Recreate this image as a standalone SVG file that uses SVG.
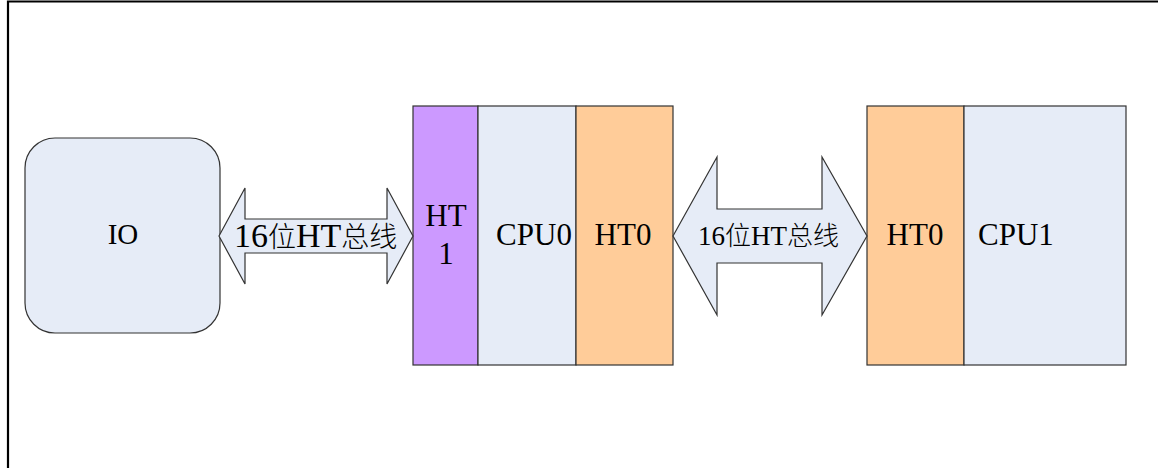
<svg xmlns="http://www.w3.org/2000/svg" width="1158" height="468" viewBox="0 0 1158 468">
<style>
.frame{fill:none;stroke:#000;stroke-width:2.2}
.box{stroke:#333;stroke-width:1.2}
.blue{fill:#E6ECF7}
.purple{fill:#CC99FF}
.orange{fill:#FFCC99}
.arrow{fill:#E6ECF7;stroke:#333;stroke-width:1.2}
.t{font-family:'Liberation Serif','Times New Roman','DejaVu Serif',serif;fill:#000}
.cjk{font-family:'Noto Sans CJK SC',sans-serif;font-weight:300}
</style>
<rect width="1158" height="468" fill="#fff"/>
<path class="frame" d="M8 468 V1.5 H1158"/>
<g id="io">
<rect class="box blue" x="25" y="138" width="195" height="195" rx="30" ry="30"/>
<text class="t" x="123" y="244" font-size="29" text-anchor="middle">IO</text>
</g>
<g id="cpu0">
<rect class="box purple" x="413" y="106" width="65" height="259"/>
<rect class="box blue" x="478" y="106" width="98" height="259"/>
<rect class="box orange" x="576" y="106" width="97" height="259"/>
<text class="t" x="446" y="226" font-size="31" text-anchor="middle">HT</text>
<text class="t" x="446" y="264" font-size="31" text-anchor="middle">1</text>
<text class="t" x="534" y="245" font-size="31" text-anchor="middle">CPU0</text>
<text class="t" x="623" y="245" font-size="31" text-anchor="middle">HT0</text>
</g>
<g id="cpu1">
<rect class="box orange" x="867" y="106" width="97" height="259"/>
<rect class="box blue" x="964" y="106" width="162" height="259"/>
<text class="t" x="915" y="245" font-size="31" text-anchor="middle">HT0</text>
<text class="t" x="978" y="245" font-size="31">CPU1</text>
</g>
<g id="connectors">
<g id="bus-left">
<polygon class="arrow" points="219,236 245,188 245,219 387,219 387,188 413,236 387,284 387,253 245,253 245,284"/>
<text class="t" x="234" y="247" font-size="34">16<tspan class="cjk" font-size="28">位</tspan>HT<tspan class="cjk" font-size="28">总线</tspan></text>
</g>
<g id="bus-right">
<polygon class="arrow" points="673,236 717,157 717,209 822,209 822,157 867,236 822,315 822,263 717,263 717,315"/>
<text class="t" x="698" y="245" font-size="27">16<tspan class="cjk" font-size="26">位</tspan>HT<tspan class="cjk" font-size="26">总线</tspan></text>
</g>
</g>
</svg>
